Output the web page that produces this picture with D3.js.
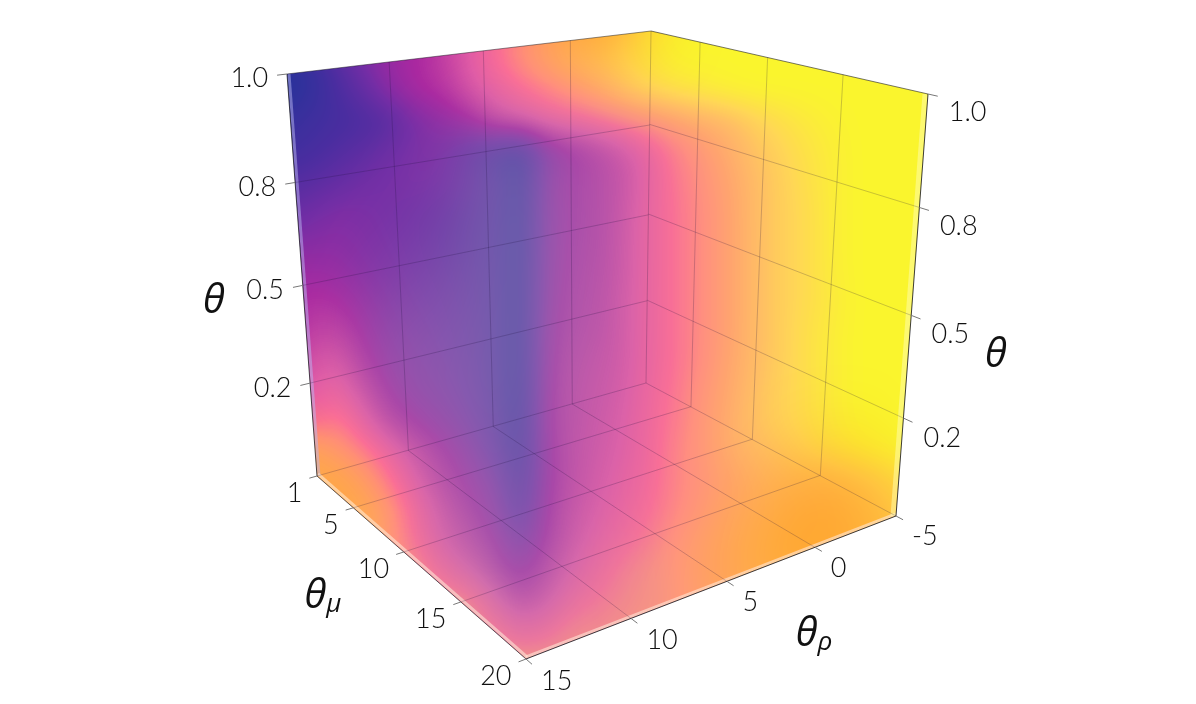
<!DOCTYPE html>
<html>
<head>
<meta charset="utf-8">
<script src="https://cdn.jsdelivr.net/npm/d3@7"></script>
<style>
  html, body { margin: 0; background: #fff; overflow: hidden; }
  #view { position: absolute; left: 0; top: 0; }
  #axes { position: absolute; left: 0; top: 0; }
  text { font-family: Lato, "Open Sans", sans-serif; font-weight: 300; fill: #111; }
  .title { font-family: "Open Sans", "DejaVu Sans", sans-serif; font-style: italic; font-weight: 400; fill: #111; }
</style>
</head>
<body>
<canvas id="view" width="1196" height="704"></canvas>
<svg id="axes" width="1196" height="704"></svg>
<script>
// axis ticks
var thetaTicks = [0.25, 0.5, 0.75, 1];
var thetaLabels = ["0.2", "0.5", "0.8", "1.0"];
var rhoTicks = [-5, 0, 5, 10, 15];
var muTicks = [1, 5, 10, 15, 20];

// colormap stops
var colorStops = [0, 0.12, 0.25, 0.4, 0.55, 0.65, 0.72, 0.79, 0.86, 0.92, 1];
var colorRange = ["#28329a", "#4b2da0", "#732da5", "#aa28a0", "#e15aa5", "#fa6e96", "#ff8f7f", "#ffa56e", "#ffbe64", "#ffd755", "#faf52d"];
var washColor = [165, 160, 190];   // positive wash
var burnColor = [255, 155, 20];    // negative wash

// volume as seen from this camera: rows top to bottom, columns left to right
var viewValues = [
  [.33,.33,.33,.33,.36,.40,.46,.55,.62,.70,.76,.82,.86,.92,.98,1,1,1,1,1,1,1,1,1,1,1],
  [0,.05,.15,.27,.36,.4,.46,.55,.64,.72,.78,.84,.88,.93,.97,1,1,1,1,1,1,1,1,1,1,1],
  [0,.04,.12,.2,.32,.4,.43,.52,.58,.64,.69,.74,.8,.87,.92,.95,.97,.99,1,1,1,1,1,1,1,1],
  [.05,.08,.1,.12,.16,.27,.33,.38,.5,.55,.6,.63,.66,.7,.74,.78,.82,.85,.9,.94,.97,.99,1,1,1,1],
  [.08,.1,.14,.18,.23,.27,.27,.2,.12,.06,.3,.38,.45,.52,.6,.69,.75,.81,.87,.91,.95,.98,1,1,1,1],
  [.14,.16,.2,.24,.26,.27,.26,.22,.16,.05,.33,.4,.44,.5,.59,.67,.73,.79,.85,.9,.94,.98,1,1,1,1],
  [.2,.24,.28,.27,.25,.24,.22,.19,.15,.05,.33,.4,.44,.51,.6,.66,.72,.78,.85,.9,.93,.98,1,1,1,1],
  [.28,.3,.31,.28,.26,.24,.21,.18,.15,.05,.33,.41,.44,.52,.6,.66,.72,.78,.85,.9,.93,.98,1,1,1,1],
  [.35,.36,.34,.3,.27,.25,.22,.19,.15,.05,.34,.42,.45,.52,.6,.66,.72,.78,.85,.9,.93,.98,1,1,1,1],
  [.38,.42,.4,.34,.29,.26,.24,.2,.15,.05,.35,.43,.46,.53,.6,.66,.72,.78,.85,.9,.93,.97,1,1,1,1],
  [.4,.46,.46,.38,.31,.28,.25,.21,.15,.05,.37,.44,.47,.53,.6,.66,.72,.78,.85,.9,.94,.98,1,1,1,1],
  [.45,.52,.54,.42,.34,.3,.27,.22,.15,.05,.38,.46,.49,.53,.6,.66,.72,.79,.85,.9,.94,.98,1,1,1,1],
  [.5,.56,.6,.5,.38,.32,.29,.24,.16,.05,.39,.47,.5,.54,.61,.67,.74,.8,.86,.91,.94,.98,1,1,1,1],
  [.6,.62,.68,.58,.46,.38,.33,.27,.18,.06,.4,.47,.51,.55,.62,.68,.75,.81,.87,.91,.94,.98,1,1,1,1],
  [.8,.8,.74,.68,.6,.5,.41,.33,.22,.08,.38,.48,.52,.56,.62,.7,.75,.81,.85,.88,.92,.96,.99,1,1,1],
  [.82,.82,.82,.76,.66,.56,.46,.38,.3,.12,.38,.48,.53,.58,.63,.7,.74,.78,.82,.85,.86,.87,.9,.93,.97,1],
  [.82,.82,.82,.82,.74,.62,.52,.43,.34,.17,.4,.5,.55,.6,.65,.71,.75,.79,.82,.84,.85,.86,.88,.91,.95,.95],
  [.82,.82,.82,.82,.75,.64,.55,.48,.4,.26,.42,.52,.58,.63,.68,.74,.77,.8,.83,.85,.86,.86,.88,.9,.9,.9],
  [.75,.75,.75,.75,.75,.72,.62,.56,.46,.36,.47,.56,.62,.68,.72,.75,.77,.8,.83,.85,.86,.86,.88,.9,.9,.9],
  [.72,.72,.72,.72,.72,.72,.72,.7,.58,.47,.53,.62,.66,.7,.72,.75,.77,.8,.83,.85,.86,.86,.88,.9,.9,.9],
  [.72,.72,.72,.72,.72,.72,.72,.72,.68,.6,.63,.7,.7,.72,.74,.75,.77,.8,.83,.85,.86,.86,.88,.9,.9,.9],
  [.72,.72,.72,.72,.72,.72,.72,.72,.72,.72,.72,.72,.72,.72,.74,.75,.77,.8,.83,.85,.86,.86,.88,.9,.9,.9]
];

// how washed out (or, below zero, how burnt) the colour is, on a coarser grid
var viewWash = [
  [0,0,0,0,0,-.3,-.6,-.2,0,0,0,0,0],
  [0,0,0,0,.05,0,0,0,0,0,0,0,0],
  [0,0,0,.08,.4,.3,.25,.05,0,0,0,0,0],
  [0,0,.03,.14,.42,.36,.3,.03,0,0,0,0,0],
  [0,.03,.14,.26,.42,.38,.28,.03,0,0,0,0,0],
  [0,.1,.3,.34,.42,.38,.26,.03,0,0,0,0,0],
  [0,.06,.34,.38,.42,.35,.2,.02,0,0,0,0,0],
  [-.3,-.1,.1,.3,.4,.3,.15,.02,0,0,-.2,-.2,0],
  [-.7,-.7,-.1,.25,.4,.28,.1,.02,0,-.3,-.7,-.6,-.3],
  [0,0,.08,.15,.4,.3,.1,.2,-.2,-.5,-.7,-.5,-.3],
  [0,0,0,0,.2,.15,.15,.1,0,0,0,0,0],
  [0,0,0,0,.1,.15,.15,.1,0,0,0,0,0]
];

// camera: where the cube corners land on the page
var topFront = [287, 74], botFront = [317, 476], topBack = [651, 31], botBack = [646, 383],
    topRight = [928, 94], botRight = [896, 516], botNear = [526, 659];

var width = 1196, height = 704;

// unit square -> quad, (0,0) p00, (1,0) p10, (1,1) p11, (0,1) p01
function quad(p00, p10, p11, p01) {
  var dx1 = p10[0] - p11[0], dx2 = p01[0] - p11[0], sx = p00[0] - p10[0] + p11[0] - p01[0],
      dy1 = p10[1] - p11[1], dy2 = p01[1] - p11[1], sy = p00[1] - p10[1] + p11[1] - p01[1],
      det = dx1 * dy2 - dx2 * dy1,
      g = (sx * dy2 - dx2 * sy) / det,
      h = (dx1 * sy - sx * dy1) / det,
      a = p10[0] - p00[0] + g * p10[0], b = p01[0] - p00[0] + h * p01[0],
      d = p10[1] - p00[1] + g * p10[1], e = p01[1] - p00[1] + h * p01[1];
  return function(u, v) {
    var w = g * u + h * v + 1;
    return [(a * u + b * v + p00[0]) / w, (d * u + e * v + p00[1]) / w];
  };
}

var rhoScale = d3.scaleLinear().domain([-5, 15]).range([0, 1]),
    muScale = d3.scaleLinear().domain([1, 20]).range([0, 1]),
    thetaScale = d3.scaleLinear().domain([0, 1]).range([0, 1]);

var leftWall = quad(botBack, botFront, topFront, topBack),   // u rho, v theta
    rightWall = quad(botBack, botRight, topRight, topBack),  // u mu, v theta
    floorFace = quad(botBack, botFront, botNear, botRight);  // u rho, v mu

// ---- the volume picture
var outline = [topFront, topBack, topRight, botRight, botNear, botFront];

var lut = d3.range(256).map(function(i) {
  return d3.rgb(d3.scaleLinear().domain(colorStops).range(colorRange)(i / 255));
});

var xValue = d3.scaleLinear().domain([286, 936]).range([0, 1]).clamp(true),
    yValue = d3.scaleLinear().domain([30, 660]).range([0, 1]).clamp(true),
    xWash = d3.scaleLinear().domain([286, 910]).range([0, 1]).clamp(true),
    yWash = d3.scaleLinear().domain([30, 690]).range([0, 1]).clamp(true);

var valueRows = viewValues.map(function(r) { return d3.interpolateBasis(r); }),
    washRows = viewWash.map(function(r) { return d3.interpolateBasis(r); });

var off = document.createElement("canvas");
off.width = width; off.height = height;
var offCtx = off.getContext("2d");
var img = offCtx.createImageData(width, height);

for (var x = 280; x < 940; x++) {
  var valueCol = d3.interpolateBasis(valueRows.map(function(f) { return f(xValue(x)); })),
      washCol = d3.interpolateBasis(washRows.map(function(f) { return f(xWash(x)); }));
  for (var y = 25; y < 665; y++) {
    var t = Math.max(0, Math.min(1, valueCol(yValue(y)))),
        w = Math.max(-1, Math.min(1, washCol(yWash(y)))),
        c = lut[Math.round(t * 255)],
        mix = w < 0 ? burnColor : washColor,
        m = Math.abs(w),
        k = (y * width + x) * 4;
    img.data[k] = c.r * (1 - m) + mix[0] * m;
    img.data[k + 1] = c.g * (1 - m) + mix[1] * m;
    img.data[k + 2] = c.b * (1 - m) + mix[2] * m;
    img.data[k + 3] = 255;
  }
}
offCtx.putImageData(img, 0, 0);

var ctx = document.getElementById("view").getContext("2d");
ctx.filter = "blur(0.6px)";
ctx.beginPath();
outline.forEach(function(p, i) { if (i) ctx.lineTo(p[0], p[1]); else ctx.moveTo(p[0], p[1]); });
ctx.closePath();
ctx.save();
ctx.clip();
ctx.drawImage(off, 0, 0);
ctx.restore();

// ---- svg overlay
var svg = d3.select("#axes");
var line = d3.line();

// pale rim along the near edges
[[topFront, botFront, "#b9b6f0", 0.5, 3, "translate(2,0)"], [botFront, botNear, "#fff0e0", 0.55, 3, "translate(1,-2)"],
 [botNear, botRight, "#ffe8d8", 0.6, 3, "translate(0,-2)"], [botRight, topRight, "#fffca8", 0.55, 5, "translate(-3,0)"]].forEach(function(e) {
  svg.append("path")
    .attr("d", line([e[0], e[1]]))
    .attr("transform", e[5])
    .attr("stroke", e[2])
    .attr("stroke-opacity", e[3])
    .attr("stroke-width", e[4])
    .attr("fill", "none");
});

function gridLine(face, a0, b0, a1, b1) {
  svg.append("path")
    .attr("d", line([face(a0, b0), face(a1, b1)]))
    .attr("stroke", "#201040")
    .attr("stroke-opacity", 0.32)
    .attr("stroke-width", 0.7)
    .attr("fill", "none");
}

rhoTicks.slice(1, 4).forEach(function(d) {
  gridLine(leftWall, rhoScale(d), 0, rhoScale(d), 1);
  gridLine(floorFace, rhoScale(d), 0, rhoScale(d), 1);
});
muTicks.slice(1, 4).forEach(function(d) {
  gridLine(rightWall, muScale(d), 0, muScale(d), 1);
  gridLine(floorFace, 0, muScale(d), 1, muScale(d));
});
thetaTicks.slice(0, 3).forEach(function(d) {
  gridLine(leftWall, 0, thetaScale(d), 1, thetaScale(d));
  gridLine(rightWall, 0, thetaScale(d), 1, thetaScale(d));
});
gridLine(leftWall, 0, 0, 0, 1);
gridLine(floorFace, 0, 0, 1, 0);
gridLine(floorFace, 0, 0, 0, 1);

// box edges
[[topFront, topBack, 0.5], [topBack, topRight, 0.6], [topFront, botFront, 0.8], [topRight, botRight, 0.85],
 [botNear, botRight, 0.85], [botFront, botNear, 0.7]].forEach(function(e) {
  svg.append("path")
    .attr("d", line([e[0], e[1]]))
    .attr("stroke", "#1c1c24")
    .attr("stroke-opacity", e[2])
    .attr("stroke-width", 1)
    .attr("fill", "none");
});

// ticks carry on along the grid line by a fixed length
function tick(from, at, len) {
  var dx = at[0] - from[0], dy = at[1] - from[1], n = Math.sqrt(dx * dx + dy * dy),
      end = [at[0] + dx / n * len, at[1] + dy / n * len];
  svg.append("path")
    .attr("d", line([at, end]))
    .attr("stroke", "#777")
    .attr("stroke-width", 1)
    .attr("fill", "none");
  return end;
}

function tickLabel(end, dx, dy, anchor, label) {
  svg.append("text")
    .attr("x", end[0] + dx)
    .attr("y", end[1] + dy)
    .attr("text-anchor", anchor)
    .attr("dominant-baseline", "central")
    .style("font-size", "27px")
    .text(label);
}

thetaTicks.forEach(function(d, i) {
  var v = thetaScale(d);
  var le = tick(leftWall(0.9, v), leftWall(1, v), 10);
  tickLabel(le, -9, 1, "end", thetaLabels[i]);
  var re = tick(rightWall(0.9, v), rightWall(1, v), 10);
  tickLabel(re, 11, 14, "start", thetaLabels[i]);
});

muTicks.forEach(function(d) {
  var u = muScale(d);
  var end = tick(floorFace(0.9, u), floorFace(1, u), 8);
  tickLabel(end, -7, 13, "end", d);
});

rhoTicks.forEach(function(d) {
  var u = rhoScale(d);
  var end = tick(floorFace(u, 0.9), floorFace(u, 1), 8);
  tickLabel(end, 9, 15, "start", d);
});

function axisTitle(x, y, sub) {
  var t = svg.append("text")
    .attr("class", "title")
    .attr("x", x)
    .attr("y", y)
    .attr("text-anchor", "middle")
    .attr("dominant-baseline", "central")
    .style("font-size", "40px")
    .text("θ");
  if (sub) {
    t.append("tspan")
      .attr("dy", 10)
      .style("font-size", "26px")
      .text(sub);
  }
}

axisTitle(214, 297);
axisTitle(996, 351);
axisTitle(323, 592, "μ");
axisTitle(814, 630, "ρ");
</script>
</body>
</html>
